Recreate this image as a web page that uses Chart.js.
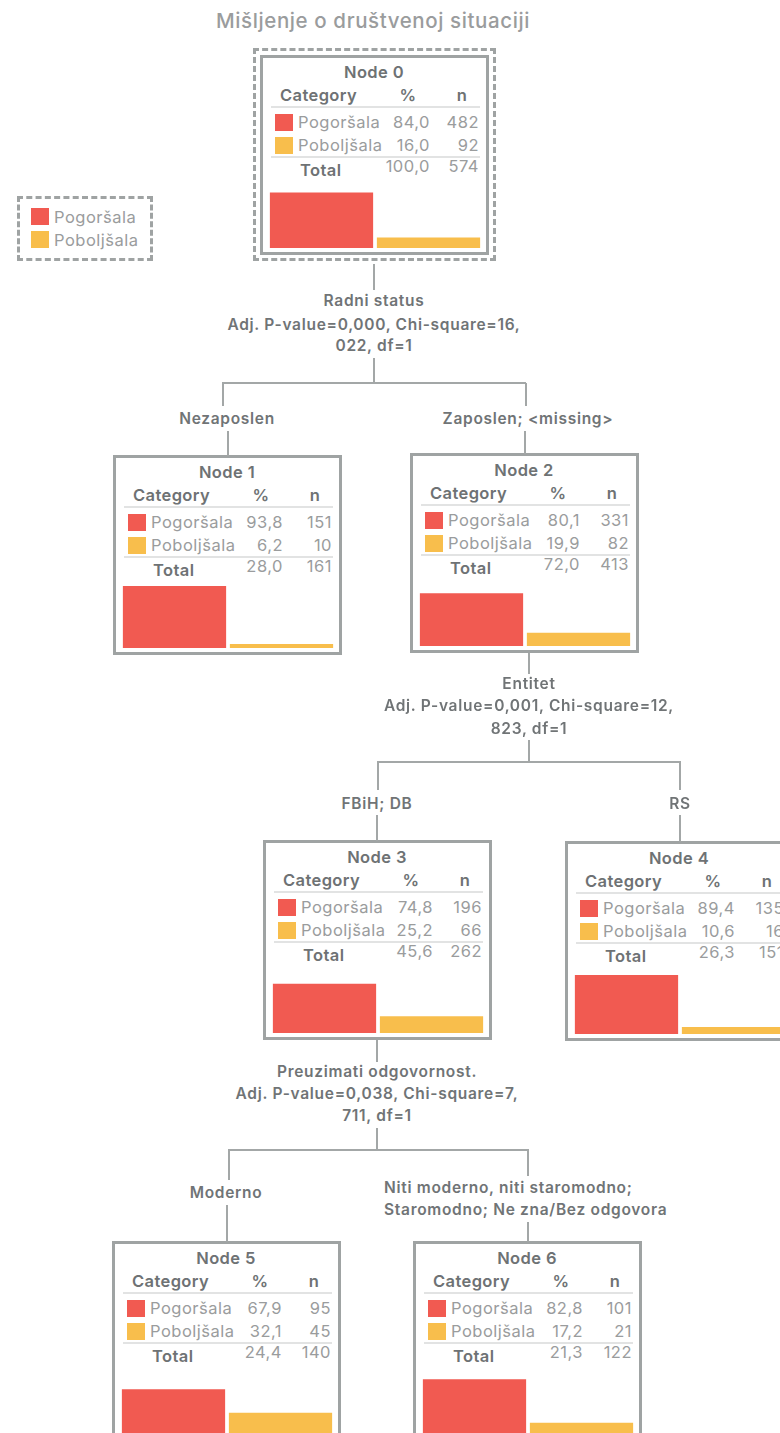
<!DOCTYPE html>
<html>
<head>
<meta charset="utf-8">
<script src="https://cdn.jsdelivr.net/npm/chart.js@4.4.1/dist/chart.umd.min.js"></script>
<style>
  html, body { margin: 0; padding: 0; background: #fff; }
  body { width: 780px; height: 1433px; position: relative; overflow: hidden; font-family: "Inter", "Lato", sans-serif; }
  .abs { position: absolute; white-space: nowrap; }
  .box { position: absolute; width: 229px; height: 200px; border: 3px solid #9fa3a3; box-sizing: border-box; background: #fff; }
  .dash { position: absolute; border: 3px dashed #9fa3a3; box-sizing: border-box; }
  .line { position: absolute; background: #a3a7a7; }
  .bold { font-weight: 600; color: #6e7274; font-size: 16.5px; line-height: 20px; letter-spacing: 0.4px; }
  .light { font-weight: 400; color: #9a9c9d; font-size: 16.5px; line-height: 20px; letter-spacing: 0.5px; }
  .sep { position: absolute; height: 2px; background: #e2e3e3; }
  .sw { position: absolute; width: 18px; height: 17px; }
  .lbl { position: absolute; text-align: center; font-weight: 600; color: #707476; font-size: 15.5px; line-height: 22px; letter-spacing: 0.7px; white-space: nowrap; transform: translateX(-50%); }
  .lbl.left { text-align: left; transform: none; }
</style>
</head>
<body>
<script>
// Categories and colours
const categories = ['Pogoršala', 'Poboljšala'];
const colors = ['#f15a51', '#f8be4c'];

// Node values (% and n per category)
const nodeNames = ['Node 0', 'Node 1', 'Node 2', 'Node 3', 'Node 4', 'Node 5', 'Node 6'];
const pctPogorsala = [84.0, 93.8, 80.1, 74.8, 89.4, 67.9, 82.8];
const pctPoboljsala = [16.0, 6.2, 19.9, 25.2, 10.6, 32.1, 17.2];
const nPogorsala = [482, 151, 331, 196, 135, 95, 101];
const nPoboljsala = [92, 10, 82, 66, 16, 45, 21];
const totalPct = [100.0, 28.0, 72.0, 45.6, 26.3, 24.4, 21.3];
const totalN = [574, 161, 413, 262, 151, 140, 122];

// Splits
const splitTitles = ['Radni status', 'Entitet', 'Preuzimati odgovornost.'];
const splitStats = [
  ['Adj. P-value=0,000, Chi-square=16,', '022, df=1'],
  ['Adj. P-value=0,001, Chi-square=12,', '823, df=1'],
  ['Adj. P-value=0,038, Chi-square=7,', '711, df=1']
];
const branchLabels = [
  ['Nezaposlen'], ['Zaposlen; <missing>'],
  ['FBiH; DB'], ['RS'],
  ['Moderno'], ['Niti moderno, niti staromodno;', 'Staromodno; Ne zna/Bez odgovora']
];

const fmt = v => v.toFixed(1).replace('.', ',');
const body = document.body;

function el(cls, css, text) {
  const d = document.createElement('div');
  d.className = cls;
  Object.assign(d.style, css);
  if (text !== undefined) d.textContent = text;
  body.appendChild(d);
  return d;
}
function child(parent, cls, css, text) {
  const d = document.createElement('div');
  d.className = cls;
  Object.assign(d.style, css);
  if (text !== undefined) d.textContent = text;
  parent.appendChild(d);
  return d;
}
function vline(x, y1, y2) { el('line', { left: (x - 1) + 'px', top: y1 + 'px', width: '2px', height: (y2 - y1) + 'px' }); }
function hline(x1, x2, y) { el('line', { left: x1 + 'px', top: (y - 1) + 'px', width: (x2 - x1) + 'px', height: '2px' }); }

// title
el('abs', { left: '373px', top: '8px', transform: 'translateX(-50%)', fontSize: '20.5px', color: '#9a9c9d', fontWeight: '500', letterSpacing: '0.6px' }, 'Mišljenje o društvenoj situaciji');

// legend
el('dash', { left: '17px', top: '196px', width: '136px', height: '65px' });
categories.forEach((c, i) => {
  el('sw', { left: '31px', top: (208 + i * 23) + 'px', background: colors[i] });
  el('abs light', { left: '54px', top: (207 + i * 23) + 'px' }, c);
});

// node positions (outer box top-left)
const nodePos = [[260, 55], [113, 455], [410, 453], [263, 840], [565, 841], [112, 1241], [413, 1241]];
el('dash', { left: '253px', top: '48px', width: '243px', height: '213px' });

nodePos.forEach((p, i) => {
  const b = el('box', { left: p[0] + 'px', top: p[1] + 'px' });
  const o = -3; // inner offset for border
  const ty = y => (y - 10 + o) + 'px';
  child(b, 'abs bold', { left: (114 + o) + 'px', top: ty(17), transform: 'translateX(-50%)' }, nodeNames[i]);
  child(b, 'abs bold', { left: (20 + o) + 'px', top: ty(40) }, 'Category');
  child(b, 'abs bold', { left: (148 + o) + 'px', top: ty(40), transform: 'translateX(-50%)' }, '%');
  child(b, 'abs bold', { left: (202 + o) + 'px', top: ty(40), transform: 'translateX(-50%)' }, 'n');
  child(b, 'sep', { left: (11 + o) + 'px', width: '209px', top: (51 + o) + 'px' });
  const pcts = [pctPogorsala[i], pctPoboljsala[i]];
  const ns = [nPogorsala[i], nPoboljsala[i]];
  categories.forEach((c, k) => {
    const cy = 67 + k * 23;
    child(b, 'sw', { left: (15 + o) + 'px', top: (cy - 8 + o) + 'px', background: colors[k] });
    child(b, 'abs light', { left: (38 + o) + 'px', top: ty(cy) }, c);
    child(b, 'abs light', { right: (229 - 170 - 3) + 'px', top: ty(cy) }, fmt(pcts[k]));
    child(b, 'abs light', { right: (229 - 219 - 3) + 'px', top: ty(cy) }, String(ns[k]));
  });
  child(b, 'sep', { left: (11 + o) + 'px', width: '209px', top: (101 + o) + 'px' });
  child(b, 'abs bold', { left: (40 + o) + 'px', top: ty(115) }, 'Total');
  child(b, 'abs light', { right: (229 - 170 - 3) + 'px', top: ty(111) }, fmt(totalPct[i]));
  child(b, 'abs light', { right: (229 - 219 - 3) + 'px', top: ty(111) }, String(totalN[i]));

  const cv = document.createElement('canvas');
  cv.width = 214; cv.height = 66;
  Object.assign(cv.style, { position: 'absolute', left: (8 + o) + 'px', top: (127 + o) + 'px', width: '214px', height: '66px' });
  b.appendChild(cv);
  new Chart(cv, {
    type: 'bar',
    data: {
      labels: categories,
      datasets: [{ data: pcts, backgroundColor: colors, borderWidth: 0, categoryPercentage: 1, barPercentage: 0.965 }]
    },
    options: {
      responsive: false, animation: false,
      layout: { padding: 0 },
      scales: { x: { display: false }, y: { display: false, min: 0, max: 100 } },
      plugins: { legend: { display: false }, tooltip: { enabled: false } }
    }
  });
});

// split from node 0
vline(374, 264, 290);
el('lbl', { left: '374px', top: '290px' }, splitTitles[0]);
el('lbl', { left: '374px', top: '314px' }, splitStats[0][0]);
el('lbl', { left: '374px', top: '335px' }, splitStats[0][1]);
vline(374, 358, 383);
hline(222, 526, 383);
vline(223, 383, 406);
vline(526, 383, 406);
el('lbl', { left: '227px', top: '408px' }, branchLabels[0][0]);
el('lbl', { left: '528px', top: '408px' }, branchLabels[1][0]);
vline(228, 431, 456);
vline(525, 431, 454);

// split from node 2
vline(529, 653, 674);
el('lbl', { left: '529px', top: '673px' }, splitTitles[1]);
el('lbl', { left: '529px', top: '695px' }, splitStats[1][0]);
el('lbl', { left: '529px', top: '718px' }, splitStats[1][1]);
vline(529, 740, 762);
hline(377, 681, 762);
vline(378, 762, 790);
vline(680, 762, 790);
el('lbl', { left: '377px', top: '793px' }, branchLabels[2][0]);
el('lbl', { left: '680px', top: '793px' }, branchLabels[3][0]);
vline(377, 815, 841);
vline(680, 815, 842);

// split from node 3
vline(377, 1040, 1062);
el('lbl', { left: '377px', top: '1061px' }, splitTitles[2]);
el('lbl', { left: '377px', top: '1083px' }, splitStats[2][0]);
el('lbl', { left: '377px', top: '1105px' }, splitStats[2][1]);
vline(377, 1128, 1150);
hline(228, 529, 1150);
vline(229, 1150, 1180);
vline(528, 1150, 1176);
el('lbl', { left: '226px', top: '1182px' }, branchLabels[4][0]);
el('lbl left', { left: '384px', top: '1177px' }, branchLabels[5][0]);
el('lbl left', { left: '384px', top: '1199px' }, branchLabels[5][1]);
vline(227, 1205, 1242);
vline(528, 1222, 1242);
</script>
</body>
</html>
